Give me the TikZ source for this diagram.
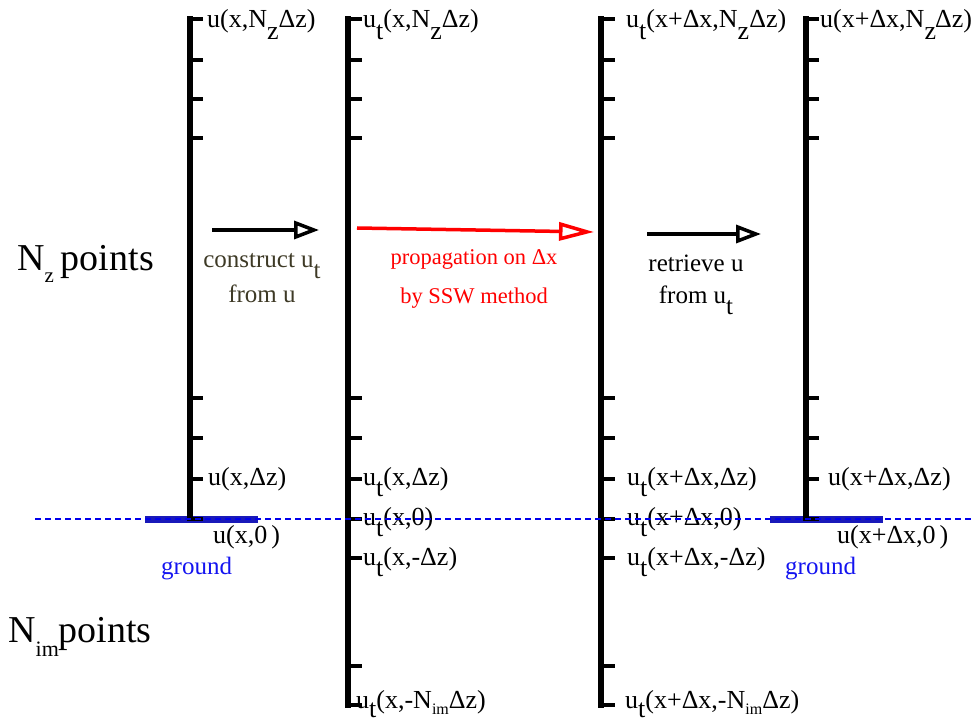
\documentclass[tikz,border=0pt]{standalone}
\usepackage{fontspec}
\setmainfont{Liberation Serif}
\usetikzlibrary{arrows.meta}
\definecolor{olivetxt}{RGB}{62,58,38}
\definecolor{gbar}{RGB}{25,25,185}
\definecolor{dashblue}{RGB}{0,0,235}
\definecolor{txtblue}{RGB}{20,20,240}
\newcommand{\lsub}[1]{\raisebox{-0.46em}{#1}}
\newcommand{\ssub}[1]{\raisebox{-6pt}{\fontsize{16}{16}\selectfont #1}}
\begin{document}
\begin{tikzpicture}[x=1pt,y=-1pt,
  lbl/.style={anchor=base west,inner sep=0pt,font=\fontsize{26}{26}\selectfont},
  side/.style={anchor=base west,inner sep=0pt,font=\fontsize{38}{38}\selectfont},
  albl/.style={anchor=base,inner sep=0pt,font=\fontsize{25}{25}\selectfont},
  rlbl/.style={anchor=base,inner sep=0pt,text=red,font=\fontsize{22.5}{22.5}\selectfont},
  gtxt/.style={anchor=base west,inner sep=0pt,text=txtblue,font=\fontsize{25}{25}\selectfont},
  axisline/.style={line width=6.5pt},
  tickline/.style={line width=3.8pt},
  groundbar/.style={gbar,line width=7pt},
  arrblack/.style={line width=3.5pt,-{Triangle[open,length=25pt,width=18pt]}},
  arrred/.style={red,line width=3.5pt,-{Triangle[open,length=35pt,width=18pt]}}]
\useasboundingbox (0,0) rectangle (972,722);

% ground bars
\draw[groundbar] (145,519) -- (258,519);
\draw[groundbar] (770,519) -- (883,519);

% rulers
\draw[axisline] (190,16.5) -- (190,521);
\draw[axisline] (348,16.5) -- (348,707.5);
\draw[axisline] (601,16.5) -- (601,707.5);
\draw[axisline] (806,16.5) -- (806,521);
\foreach \y in {19,60,99,138,398,438,479,519} {
  \draw[tickline] (190,\y) -- ++(13,0);
  \draw[tickline] (806,\y) -- ++(13,0);
}
\foreach \y in {19,60,99,138,398,438,479,519,558,666,705} {
  \draw[tickline] (348,\y) -- ++(14,0);
  \draw[tickline] (601,\y) -- ++(14,0);
}

% top labels
\node[lbl] (t1) at (207,28) {u(x,N\lsub{z}Δz)};
\node[lbl] (t2) at (363,28) {u\lsub{t}(x,N\lsub{z}Δz)};
\node[lbl] (t3) at (626,28) {u\lsub{t}(x+Δx,N\lsub{z}Δz)};
\node[lbl] (t4) at (820,28) {u(x+Δx,N\lsub{z}\kern-1ptΔz)};

% middle labels
\node[lbl] (m1) at (208,485) {u(x,Δz)};
\node[lbl] (m2) at (213,543) {u(x,0\hspace{4pt})};
\node[lbl] (m3) at (363,485) {u\lsub{t}(x,Δz)};
\node[lbl] (m4) at (363,525) {u\lsub{t}(x,0)};
\node[lbl] (m5) at (363,565) {u\lsub{t}(x,-Δz)};
\node[lbl] (m6) at (627,485) {u\lsub{t}(x+Δx,Δz)};
\node[lbl] (m7) at (627,525) {u\lsub{t}(x+Δx,0)};
\node[lbl] (m8) at (627,565) {u\lsub{t}(x+Δx,-Δz)};
\node[lbl] (m9) at (828,485) {u(x+Δx,Δz)};
\node[lbl] (m10) at (837,543) {u(x+Δx,0\hspace{4pt})};
\node[gtxt] (g1) at (161,574) {ground};
\node[gtxt] (g2) at (785,574) {ground};

% bottom labels
\node[lbl] (b1) at (356,708) {u\raisebox{-9pt}{t}(x,-N\ssub{im}Δz)};
\node[lbl] (b2) at (625,708) {u\raisebox{-9pt}{t}(x+Δx,-N\ssub{im}Δz)};

% side labels
\node[side] (nz) at (17,270) {N\raisebox{-13pt}{\fontsize{21}{21}\selectfont z}\hspace{7pt}points};
\node[side] (nim) at (8,642) {N\raisebox{-14pt}{\fontsize{22}{22}\selectfont im}points};

% arrows
\coordinate (a1s) at (212,230);
\coordinate (a1e) at (319,230);
\coordinate (a2s) at (357,228);
\coordinate (a2e) at (594,232);
\coordinate (a3s) at (647,234);
\coordinate (a3e) at (761,234);
\draw[arrblack] (a1s) -- (a1e);
\draw[arrred] (a2s) -- (a2e);
\draw[arrblack] (a3s) -- (a3e);

% arrow labels
\node[albl,text=olivetxt] (c1) at (262,267) {construct u\lsub{t}};
\node[albl,text=olivetxt] (c2) at (262,302) {from u};
\node[rlbl] (p1) at (474,265) {propagation on Δx};
\node[rlbl] (p2) at (474,303) {by SSW method};
\node[albl] (r1) at (696,272) {retrieve u};
\node[albl] (r2) at (696,303) {from u\lsub{t}};

% ground dashed line
\draw[dashblue,line width=1.2pt,dash pattern=on 6pt off 4pt] (35,519) -- (972,519);
\end{tikzpicture}
\end{document}
